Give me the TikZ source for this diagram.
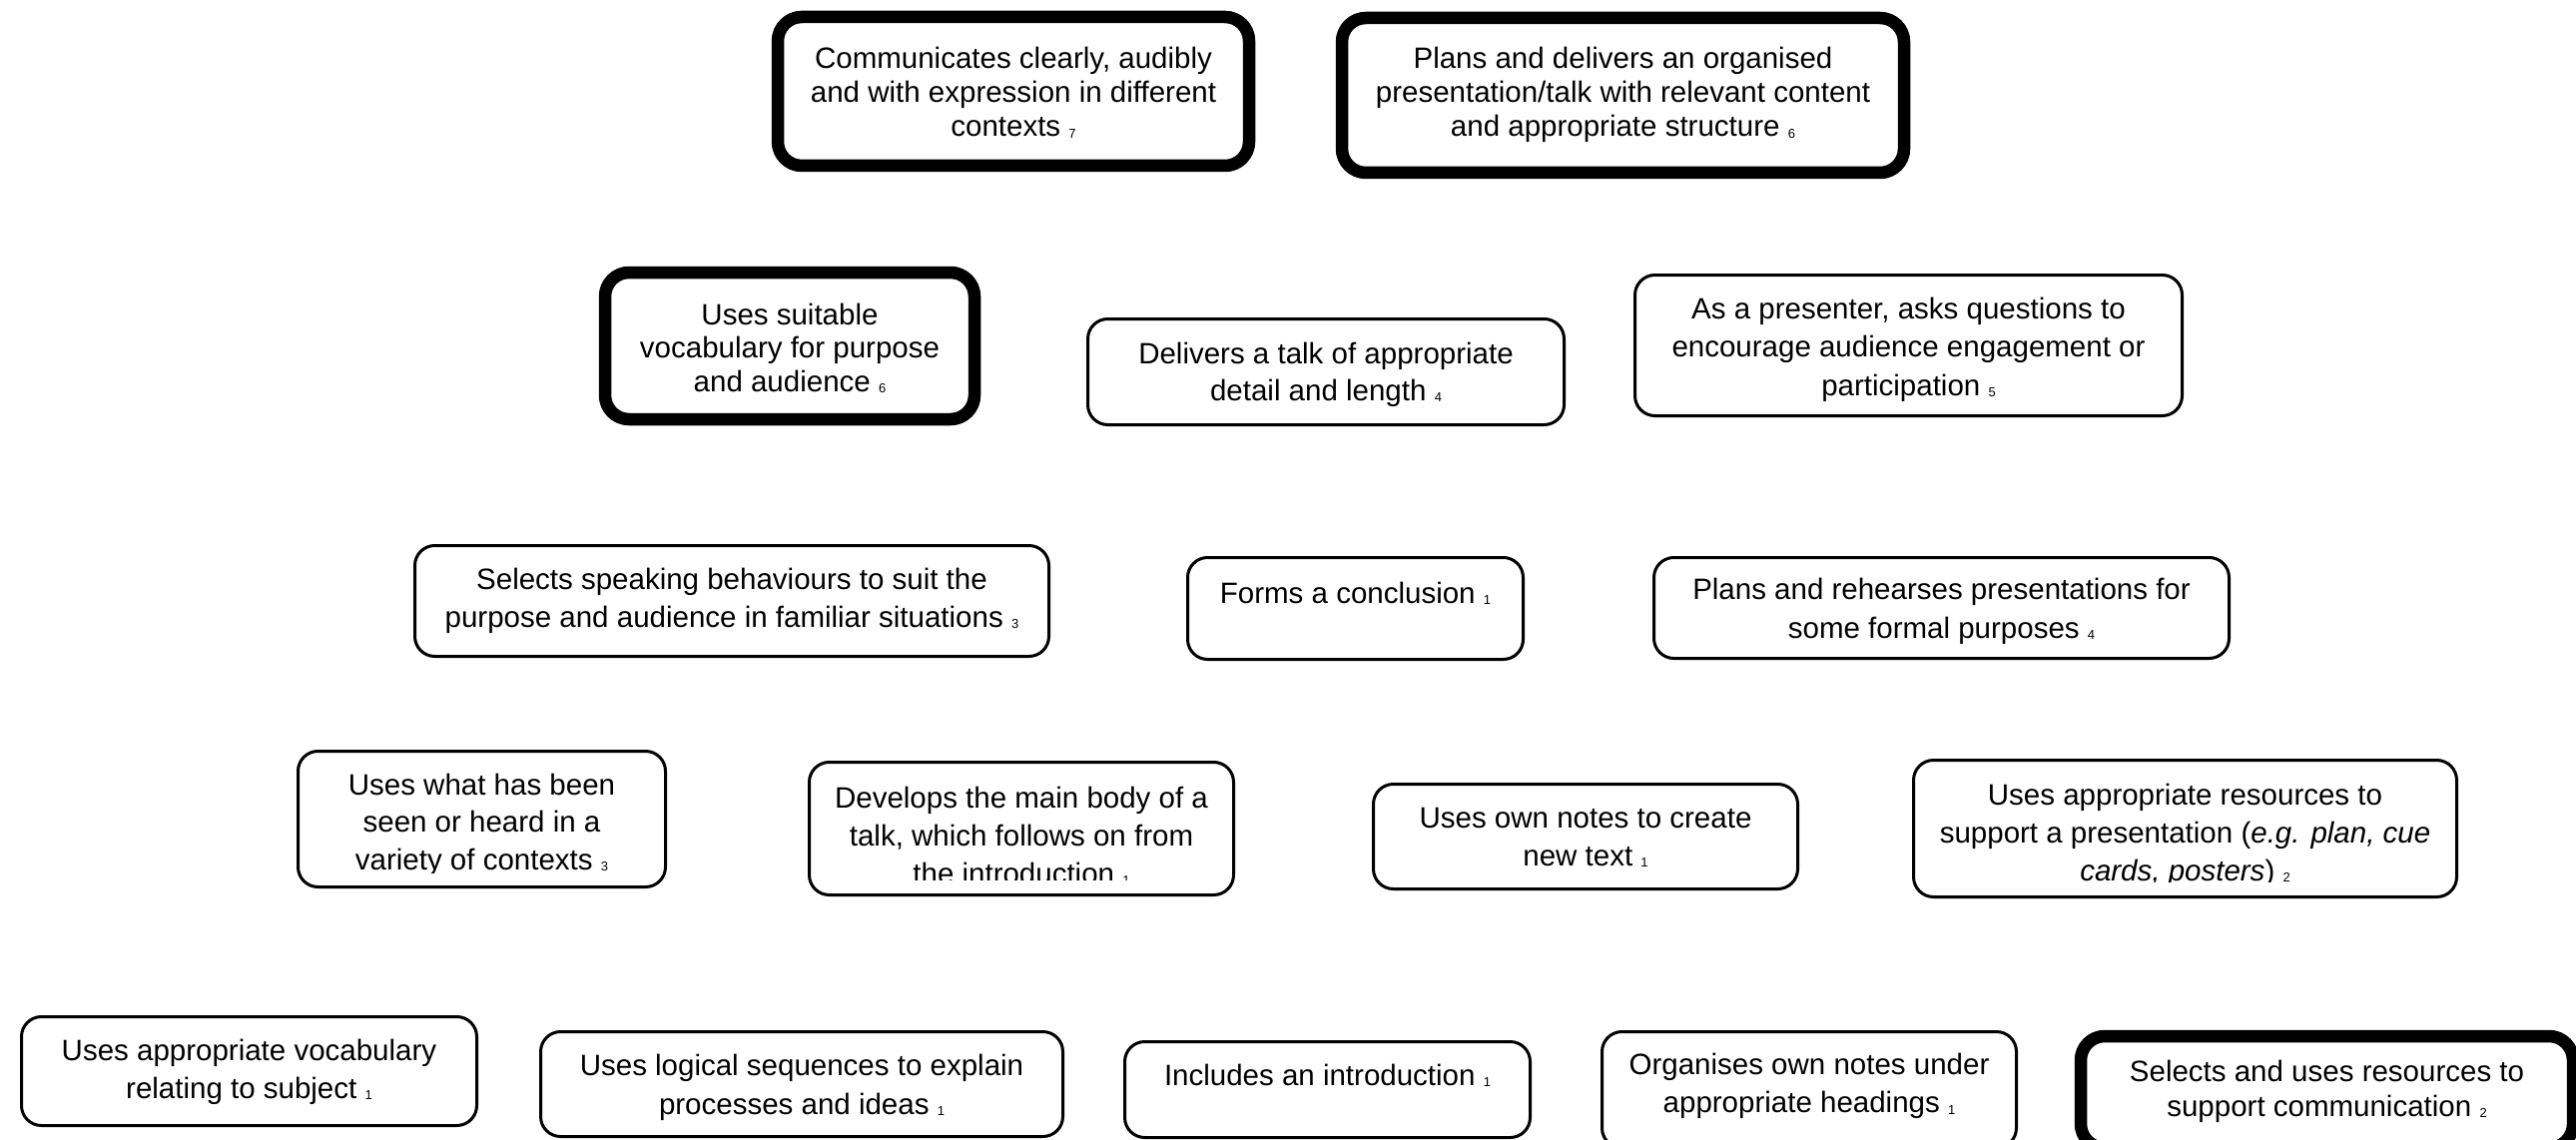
\documentclass[tikz,border=0pt]{standalone}
\usepackage{fontspec}
\setmainfont{Liberation Sans}
% small trailing level number
\newcommand{\ssnum}[1]{\raisebox{-1.5pt}{\fontsize{13}{13}\selectfont #1}}
% centred text block whose reference point is the first baseline
\newcommand{\boxlines}[3]{\parbox[t]{#1pt}{\fontsize{29.5}{#2}\selectfont\centering #3}}
\tikzset{
  thinbox/.style={draw=black, line width=3pt, rounded corners=20pt, fill=white, inner sep=0pt},
  thickbox/.style={draw=black, line width=12.5pt, rounded corners=24pt, fill=white, inner sep=0pt},
  txt/.style={anchor=base, inner sep=0pt, outer sep=0pt},
}
\begin{document}
\begin{tikzpicture}[x=1pt, y=-1pt]
\clip (0,0) rectangle (2580,1142);
\fill[white] (0,0) rectangle (2580,1142);

% ---------- row 1 ----------
\node[thickbox, minimum width=472pt, minimum height=149pt] (b1) at (1015,91.5) {};
\begin{scope}\clip ([xshift=6pt]b1.north west) rectangle ([xshift=-6pt,yshift=15pt]b1.south east);
\node[txt] (t1) at (1015,69) {\boxlines{470}{34}{Communicates clearly, audibly\\ and with expression in different\\ contexts \ssnum{7}}};
\end{scope}

\node[thickbox, minimum width=563pt, minimum height=155pt] (b2) at (1625.5,95.5) {};
\begin{scope}\clip ([xshift=6pt]b2.north west) rectangle ([xshift=-6pt,yshift=15pt]b2.south east);
\node[txt] (t2) at (1625.5,69) {\boxlines{560}{34}{Plans and delivers an organised\\ presentation/talk with relevant content\\ and appropriate structure \ssnum{6}}};
\end{scope}

% ---------- row 2 ----------
\node[thickbox, minimum width=370pt, minimum height=147pt] (b3) at (791,346.5) {};
\begin{scope}\clip ([xshift=6pt]b3.north west) rectangle ([xshift=-6pt,yshift=15pt]b3.south east);
\node[txt] (t3) at (791,325) {\boxlines{368}{33.5}{Uses suitable\\ vocabulary for purpose\\ and audience \ssnum{6}}};
\end{scope}

\node[thinbox, minimum width=477pt, minimum height=106pt] (b4) at (1328,372.5) {};
\begin{scope}\clip ([xshift=2pt]b4.north west) rectangle ([xshift=-2pt,yshift=17pt]b4.south east);
\node[txt] (t4) at (1328,364) {\boxlines{475}{37}{Delivers a talk of appropriate\\ detail and length \ssnum{4}}};
\end{scope}

\node[thinbox, minimum width=548pt, minimum height=141pt] (b5) at (1911.5,346) {};
\begin{scope}\clip ([xshift=2pt]b5.north west) rectangle ([xshift=-2pt,yshift=17pt]b5.south east);
\node[txt] (t5) at (1911.5,319) {\boxlines{545}{38.5}{As a presenter, asks questions to\\ encourage audience engagement or\\ participation \ssnum{5}}};
\end{scope}

% ---------- row 3 ----------
\node[thinbox, minimum width=635pt, minimum height=111pt] (b6) at (733,602) {};
\begin{scope}\clip ([xshift=2pt]b6.north west) rectangle ([xshift=-2pt,yshift=17pt]b6.south east);
\node[txt] (t6) at (733,590) {\boxlines{633}{38}{Selects speaking behaviours to suit the\\ purpose and audience in familiar situations \ssnum{3}}};
\end{scope}

\node[thinbox, minimum width=336pt, minimum height=102pt] (b7) at (1357.5,609.5) {};
\begin{scope}\clip ([xshift=2pt]b7.north west) rectangle ([xshift=-2pt,yshift=17pt]b7.south east);
\node[txt] (t7) at (1357.5,604) {\boxlines{334}{38}{Forms a conclusion \ssnum{1}}};
\end{scope}

\node[thinbox, minimum width=576pt, minimum height=101pt] (b8) at (1944.5,609) {};
\begin{scope}\clip ([xshift=2pt]b8.north west) rectangle ([xshift=-2pt,yshift=17pt]b8.south east);
\node[txt] (t8) at (1944.5,600) {\boxlines{574}{39}{Plans and rehearses presentations for\\ some formal purposes \ssnum{4}}};
\end{scope}

% ---------- row 4 ----------
\node[thinbox, minimum width=368pt, minimum height=136pt] (b9) at (482.5,820.5) {};
\begin{scope}\clip ([xshift=2pt]b9.north west) rectangle ([xshift=-2pt,yshift=15.5pt]b9.south east);
\node[txt] (t9) at (482.5,796) {\boxlines{366}{37.5}{Uses what has been\\ seen or heard in a\\ variety of contexts \ssnum{3}}};
\end{scope}

\node[thinbox, minimum width=425pt, minimum height=133pt] (b10) at (1023,830) {};
\begin{scope}\clip ([xshift=2pt]b10.north west) rectangle ([xshift=-2pt,yshift=17pt]b10.south east);
\node[txt] (t10) at (1023,809) {\boxlines{423}{38}{Develops the main body of a\\ talk, which follows on from\\ the introduction \ssnum{1}}};
\end{scope}

\node[thinbox, minimum width=425pt, minimum height=105pt] (b11) at (1588,838) {};
\begin{scope}\clip ([xshift=2pt]b11.north west) rectangle ([xshift=-2pt,yshift=17pt]b11.south east);
\node[txt] (t11) at (1588,829) {\boxlines{423}{38}{Uses own notes to create\\ new text \ssnum{1}}};
\end{scope}

\node[thinbox, minimum width=544pt, minimum height=137pt] (b12) at (2188.5,830) {};
\begin{scope}\clip ([xshift=2pt]b12.north west) rectangle ([xshift=-2pt,yshift=17pt]b12.south east);
\node[txt] (t12) at (2188.5,806) {\boxlines{542}{38}{Uses appropriate resources to\\ support a presentation (\textit{e.g. plan, cue}\\ \textit{cards, posters}) \ssnum{2}}};
\end{scope}

% ---------- row 5 ----------
\node[thinbox, minimum width=456pt, minimum height=109pt] (b13) at (249.5,1073) {};
\begin{scope}\clip ([xshift=2pt]b13.north west) rectangle ([xshift=-2pt,yshift=17pt]b13.south east);
\node[txt] (t13) at (249.5,1062) {\boxlines{454}{38}{Uses appropriate vocabulary\\ relating to subject \ssnum{1}}};
\end{scope}

\node[thinbox, minimum width=523pt, minimum height=105pt] (b14) at (803,1086) {};
\begin{scope}\clip ([xshift=2pt]b14.north west) rectangle ([xshift=-2pt,yshift=17pt]b14.south east);
\node[txt] (t14) at (803,1077) {\boxlines{521}{39}{Uses logical sequences to explain\\ processes and ideas \ssnum{1}}};
\end{scope}

\node[thinbox, minimum width=406pt, minimum height=96pt] (b15) at (1329.5,1091.5) {};
\begin{scope}\clip ([xshift=2pt]b15.north west) rectangle ([xshift=-2pt,yshift=17pt]b15.south east);
\node[txt] (t15) at (1329.5,1087) {\boxlines{404}{37}{Includes an introduction \ssnum{1}}};
\end{scope}

\node[thinbox, minimum width=415pt, minimum height=116.5pt] (b16) at (1812,1091.75) {};
\begin{scope}\clip ([xshift=2pt]b16.north west) rectangle ([xshift=-2pt,yshift=17pt]b16.south east);
\node[txt] (t16) at (1812,1076) {\boxlines{413}{38.5}{Organises own notes under\\ appropriate headings \ssnum{1}}};
\end{scope}

\node[thickbox, minimum width=493pt, minimum height=112pt] (b17) at (2330.5,1094) {};
\begin{scope}\clip ([xshift=6pt]b17.north west) rectangle ([xshift=-6pt,yshift=6pt]b17.south east);
\node[txt] (t17) at (2330.5,1083) {\boxlines{490}{35}{Selects and uses resources to\\ support communication \ssnum{2}}};
\end{scope}
\end{tikzpicture}
\end{document}
